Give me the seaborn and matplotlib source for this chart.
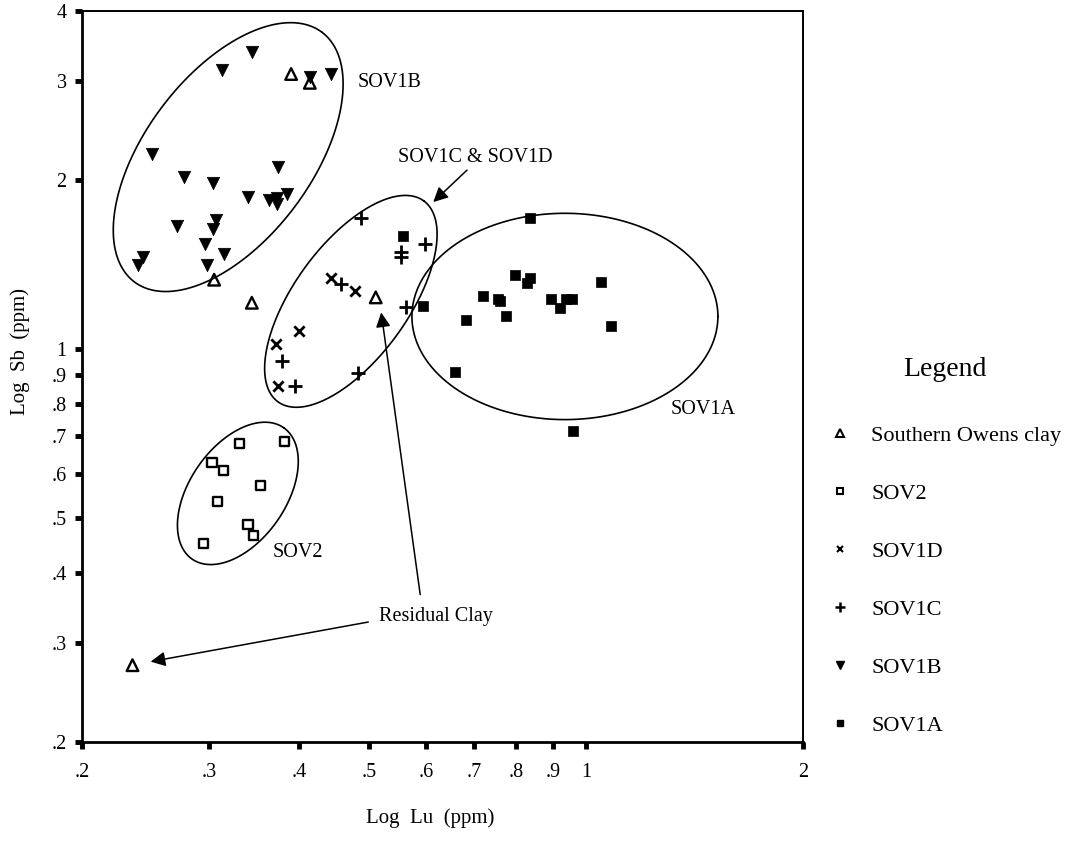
import numpy as np
import pandas as pd
import matplotlib
matplotlib.use("Agg")
import matplotlib.pyplot as plt
from matplotlib.lines import Line2D
from matplotlib.ticker import NullLocator
import seaborn as sns

# ---- data (Lu ppm, Sb ppm) ----
clay_lu = [0.390, 0.414, 0.305, 0.344, 0.511, 0.235]
clay_sb = [3.09, 2.98, 1.33, 1.21, 1.237, 0.274]

sov2_lu = [0.331, 0.382, 0.303, 0.314, 0.354, 0.308, 0.340, 0.346, 0.295]
sov2_sb = [0.680, 0.685, 0.629, 0.608, 0.572, 0.536, 0.487, 0.466, 0.451]

sov1d_lu = [0.443, 0.478, 0.400, 0.372, 0.374]
sov1d_sb = [1.338, 1.268, 1.076, 1.020, 0.862]

sov1c_lu = [0.488, 0.598, 0.554, 0.554, 0.457, 0.563, 0.379, 0.395, 0.483]
sov1c_sb = [1.711, 1.538, 1.488, 1.458, 1.305, 1.187, 0.952, 0.862, 0.906]

sov1b_lu = [0.344, 0.313, 0.414, 0.443, 0.250, 0.277, 0.304, 0.374, 0.340, 0.363, 0.373,
            0.373, 0.385, 0.271, 0.307, 0.304, 0.296, 0.315, 0.243, 0.239, 0.298]
sov1b_sb = [3.38, 3.14, 3.05, 3.09, 2.23, 2.03, 1.98, 2.11, 1.87, 1.84, 1.86,
            1.81, 1.89, 1.66, 1.70, 1.64, 1.54, 1.48, 1.46, 1.41, 1.41]

sov1a_lu = [0.557, 0.594, 0.658, 0.836, 0.797, 0.836, 0.828, 1.049, 0.720, 0.755, 0.760,
            0.894, 0.938, 0.956, 0.921, 0.682, 0.775, 1.083, 0.959]
sov1a_sb = [1.589, 1.192, 0.910, 1.711, 1.354, 1.338, 1.311, 1.316, 1.242, 1.227, 1.217,
            1.227, 1.227, 1.227, 1.183, 1.126, 1.144, 1.099, 0.714]

x_ticks = [0.2, 0.3, 0.4, 0.5, 0.6, 0.7, 0.8, 0.9, 1, 2]
x_ticklabels = [".2", ".3", ".4", ".5", ".6", ".7", ".8", ".9", "1", "2"]
y_ticks = [0.2, 0.3, 0.4, 0.5, 0.6, 0.7, 0.8, 0.9, 1, 2, 3, 4]
y_ticklabels = [".2", ".3", ".4", ".5", ".6", ".7", ".8", ".9", "1", "2", "3", "4"]

groups = ["Southern Owens clay", "SOV2", "SOV1D", "SOV1C", "SOV1B", "SOV1A"]
df = pd.concat([
    pd.DataFrame({"lu": clay_lu, "sb": clay_sb, "group": groups[0]}),
    pd.DataFrame({"lu": sov2_lu, "sb": sov2_sb, "group": groups[1]}),
    pd.DataFrame({"lu": sov1d_lu, "sb": sov1d_sb, "group": groups[2]}),
    pd.DataFrame({"lu": sov1c_lu, "sb": sov1c_sb, "group": groups[3]}),
    pd.DataFrame({"lu": sov1b_lu, "sb": sov1b_sb, "group": groups[4]}),
    pd.DataFrame({"lu": sov1a_lu, "sb": sov1a_sb, "group": groups[5]}),
], ignore_index=True)

# ---- style ----
sns.set_theme(style="white")
plt.rcParams["font.family"] = ["Liberation Serif", "DejaVu Serif"]
plt.rcParams.update({"text.color": "black", "axes.labelcolor": "black",
                     "xtick.color": "black", "ytick.color": "black"})

fig = plt.figure(figsize=(10.68, 8.57), dpi=100)
ax = fig.add_axes([82 / 1068, 115 / 857, 721 / 1068, 731 / 857])

# marker styles per group
styles = {
    "Southern Owens clay": dict(marker="^", s=70, facecolors="none", edgecolor="black", linewidth=1.7),
    "SOV2": dict(marker="s", s=45, facecolors="none", edgecolor="black", linewidth=1.7),
    "SOV1D": dict(marker="x", s=55, color="black", linewidth=2),
    "SOV1C": dict(marker="+", s=110, color="black", linewidth=2),
    "SOV1B": dict(marker="v", s=80, color="black", edgecolor="black", linewidth=0.5),
    "SOV1A": dict(marker="s", s=50, color="black", edgecolor="black", linewidth=0.5),
}
for g in groups[::-1]:
    sub = df[df["group"] == g]
    sns.scatterplot(data=sub, x="lu", y="sb", ax=ax, legend=False, zorder=3, **styles[g])

ax.set_xscale("log")
ax.set_yscale("log")
ax.set_xlim(0.2, 2)
ax.set_ylim(0.2, 4)
ax.set_xticks(x_ticks)
ax.set_xticklabels(x_ticklabels)
ax.set_yticks(y_ticks)
ax.set_yticklabels(y_ticklabels)
ax.xaxis.set_minor_locator(NullLocator())
ax.yaxis.set_minor_locator(NullLocator())
ax.tick_params(axis="both", which="major", direction="out", length=5, width=3.5,
               color="black", labelsize=14.5, pad=6, bottom=True, left=True)
ax.tick_params(axis="x", pad=10)

for side, sp in ax.spines.items():
    sp.set_color("black")
    sp.set_linewidth(2.0 if side in ("left", "bottom") else 1.4)

ax.set_xlabel("Log  Lu  (ppm)", fontsize=15)
ax.set_ylabel("Log  Sb  (ppm)", fontsize=15)
ax.xaxis.set_label_coords(0.483, -0.091)
ax.yaxis.set_label_coords(-0.072, 0.534)


# ---- group ellipses (drawn in screen-like units, then mapped back onto log axes) ----
def draw_ellipse(xc, yc, a, b, angle):
    t = np.linspace(0, 2 * np.pi, 300)
    th = np.deg2rad(angle)
    dx = a * np.cos(t) * np.cos(th) - b * np.sin(t) * np.sin(th)
    dy = a * np.cos(t) * np.sin(th) + b * np.sin(t) * np.cos(th)
    ax.plot(xc * 10 ** (dx / 721), yc * 10 ** (dy / 561), color="black", lw=1.2, zorder=2)


draw_ellipse(0.319, 2.198, 156, 83, 53)
draw_ellipse(0.472, 1.217, 124, 57, 54)
draw_ellipse(0.935, 1.144, 153, 103, 0)
draw_ellipse(0.329, 0.554, 80, 48, 55)

# ---- labels and arrows ----
txt = dict(fontsize=14.5, color="black", va="center", ha="left")
ax.text(0.483, 2.99, "SOV1B", **txt)
ax.text(0.368, 0.434, "SOV2", **txt)
ax.text(1.312, 0.781, "SOV1A", **txt)
arrow = dict(arrowstyle="-|>", color="black", lw=1.1, mutation_scale=22, shrinkA=0, shrinkB=0)
ax.annotate("", xy=(0.614, 1.828), xytext=(0.684, 2.084), arrowprops=arrow)
ax.text(0.549, 2.198, "SOV1C & SOV1D", **txt)
ax.text(0.516, 0.334, "Residual Clay", **txt)
ax.annotate("", xy=(0.520, 1.163), xytext=(0.589, 0.366), arrowprops=arrow)
ax.annotate("", xy=(0.249, 0.278), xytext=(0.499, 0.327), arrowprops=arrow)

# ---- legend outside the axes ----
handles = [
    Line2D([], [], marker="^", ls="none", ms=6, mfc="none", mec="black", mew=1.5),
    Line2D([], [], marker="s", ls="none", ms=5, mfc="none", mec="black", mew=1.5),
    Line2D([], [], marker="x", ls="none", ms=5, color="black", mew=1.5),
    Line2D([], [], marker="+", ls="none", ms=7, color="black", mew=1.8),
    Line2D([], [], marker="v", ls="none", ms=6, color="black"),
    Line2D([], [], marker="s", ls="none", ms=5, color="black"),
]
leg = fig.legend(handles, groups, loc="upper left", bbox_to_anchor=(820 / 1068, 1 - 348 / 857),
                 frameon=False, title="Legend", title_fontsize=20, fontsize=16,
                 labelspacing=1.69, handlelength=1.0, handletextpad=0.9, borderaxespad=0,
                 labelcolor="black")
leg._legend_box.sep = 31

fig.savefig("out.png", dpi=100)
